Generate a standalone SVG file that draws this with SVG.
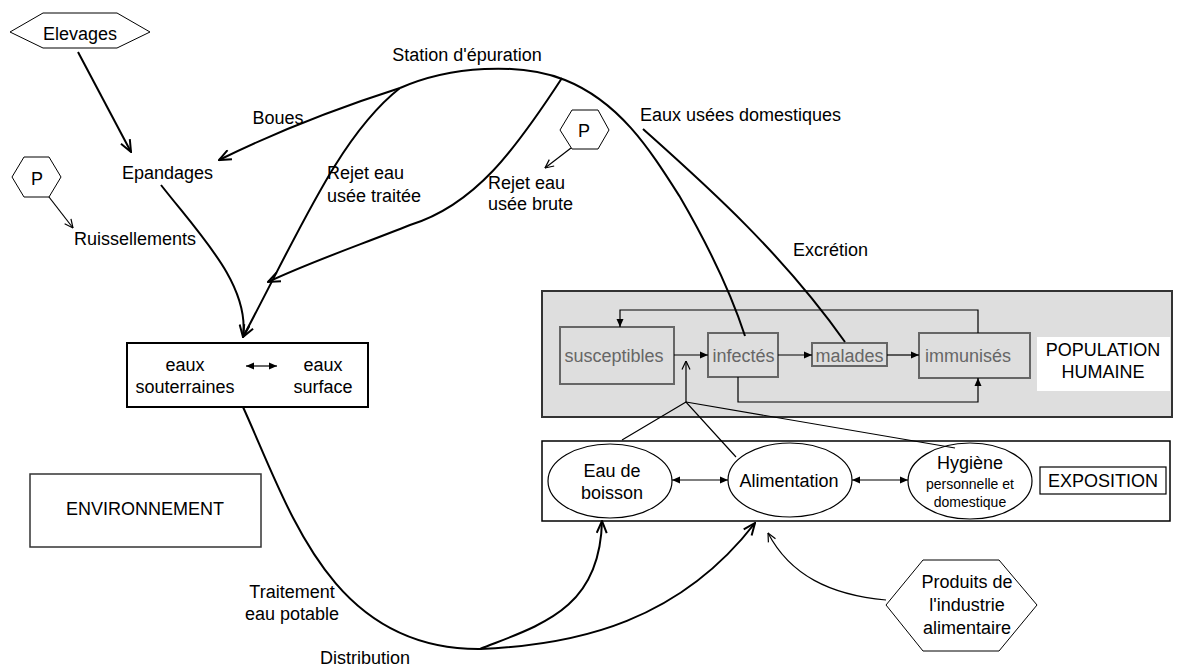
<svg xmlns="http://www.w3.org/2000/svg" width="1179" height="668" viewBox="0 0 1179 668">
<defs>
<style>
text{font-family:"Liberation Sans",Arial,sans-serif;font-size:18px;fill:#000}
.c{text-anchor:middle}
.g{fill:#666}
.thick{fill:none;stroke:#000;stroke-width:2}
.thin{fill:none;stroke:#000;stroke-width:1.2}
.hex{fill:#fff;stroke:#000;stroke-width:1}
.pbox{fill:#dedede;stroke:#666;stroke-width:2}
</style>
<marker id="vt" viewBox="0 0 14 12" refX="13" refY="6" markerWidth="14" markerHeight="12" markerUnits="userSpaceOnUse" orient="auto"><path d="M1,1 L13,6 L1,11" fill="none" stroke="#000" stroke-width="2"/></marker>
<marker id="vs" viewBox="0 0 10 10" refX="9.5" refY="5" markerWidth="10" markerHeight="10" markerUnits="userSpaceOnUse" orient="auto"><path d="M1,1 L9.5,5 L1,9" fill="none" stroke="#000" stroke-width="1.2"/></marker>
<marker id="tri" viewBox="0 0 8 8" refX="8" refY="4" markerWidth="8" markerHeight="8" markerUnits="userSpaceOnUse" orient="auto-start-reverse"><path d="M0,0.5 L8,4 L0,7.5z" fill="#000"/></marker>
</defs>
<rect width="1179" height="668" fill="#fff"/>

<g id="population">
<rect x="542" y="291" width="630" height="126" fill="#dedede" stroke="#333" stroke-width="2"/>
<rect x="1037" y="337" width="133" height="54" fill="#fff"/>
<text class="c" x="1103" y="356">POPULATION</text>
<text class="c" x="1103" y="378">HUMAINE</text>
</g>
<g id="susceptibles"><rect class="pbox" x="560" y="327" width="114" height="57"/><text class="c g" x="614" y="362">susceptibles</text></g>
<g id="infectes"><rect class="pbox" x="708" y="333" width="70" height="44"/><text class="c g" x="743.5" y="362">infectés</text></g>
<g id="malades"><rect class="pbox" x="812" y="343" width="75" height="23"/><text class="c g" x="849.5" y="362">malades</text></g>
<g id="immunises"><rect class="pbox" x="919" y="333" width="111" height="45"/><text class="c g" x="968" y="362">immunisés</text></g>

<g id="exposition">
<rect x="542" y="441" width="628" height="80" fill="#fff" stroke="#000" stroke-width="1.5"/>
<rect x="1040" y="467" width="126" height="27" fill="#fff" stroke="#000" stroke-width="1.2"/>
<text class="c" x="1103" y="487">EXPOSITION</text>
</g>
<g id="eau-boisson"><ellipse cx="610" cy="481" rx="62" ry="37" fill="#fff" stroke="#000" stroke-width="1.2"/><text class="c" x="612" y="477">Eau de</text><text class="c" x="612" y="499">boisson</text></g>
<g id="alimentation"><ellipse cx="790" cy="480" rx="62" ry="37" fill="#fff" stroke="#000" stroke-width="1.2"/><text class="c" x="789" y="487">Alimentation</text></g>
<g id="hygiene"><ellipse cx="970" cy="481" rx="62" ry="38" fill="#fff" stroke="#000" stroke-width="1.2"/><text class="c" x="970" y="469">Hygiène</text><text class="c" x="970" y="489" style="font-size:14px">personnelle et</text><text class="c" x="970" y="507" style="font-size:14px">domestique</text></g>

<g id="eaux">
<rect x="127" y="343" width="241" height="64" fill="#fff" stroke="#000" stroke-width="2"/>
<text class="c" x="185" y="371">eaux</text><text class="c" x="185" y="393">souterraines</text>
<text class="c" x="323" y="371">eaux</text><text class="c" x="323" y="393">surface</text>
</g>
<g id="environnement"><rect x="30" y="474" width="231" height="73" fill="#fff" stroke="#333" stroke-width="1.5"/><text class="c" x="145" y="515">ENVIRONNEMENT</text></g>

<g id="elevages"><polygon class="hex" points="10,32 43,13 117,13 150,32 117,48 43,48"/><text class="c" x="80" y="40">Elevages</text></g>
<g id="p1"><polygon class="hex" points="12,177 24,157 49,157 61,177 49,197 24,197"/><text class="c" x="37" y="185">P</text></g>
<g id="p2"><polygon class="hex" points="560,130 572,110 598,110 609,130 598,149 572,149"/><text class="c" x="584" y="137">P</text></g>
<g id="produits"><polygon class="hex" points="886,605 923,560 999,560 1037,605 999,651 923,651"/><text class="c" x="967" y="588">Produits de</text><text class="c" x="967" y="611">l'industrie</text><text class="c" x="967" y="634">alimentaire</text></g>

<g id="labels">
<text class="c" x="467" y="61">Station d'épuration</text>
<text class="c" x="278" y="124">Boues</text>
<text class="c" x="167.5" y="179">Epandages</text>
<text x="74" y="245">Ruissellements</text>
<text x="327" y="179">Rejet eau</text><text x="327" y="202">usée traitée</text>
<text x="488" y="189">Rejet eau</text><text x="488" y="210">usée brute</text>
<text x="640" y="121">Eaux usées domestiques</text>
<text x="793" y="256">Excrétion</text>
<text class="c" x="292" y="598">Traitement</text><text class="c" x="292" y="620">eau potable</text>
<text class="c" x="365" y="664">Distribution</text>
</g>

<g id="connectors">
<path class="thick" d="M78,52 L131,152" marker-end="url(#vt)"/>
<path class="thin" d="M49,197 L73,228" marker-end="url(#vs)"/>
<path class="thin" d="M571,148 L545,168" marker-end="url(#vs)"/>
<path class="thick" d="M400,88 Q300,120 219,160" marker-end="url(#vt)"/>
<path class="thick" d="M400,88 C340,135 300,230 243,337" marker-end="url(#vt)"/>
<path class="thick" d="M161,185 C200,235 250,285 243,337" marker-end="url(#vt)"/>
<path class="thick" d="M562,78 C515,150 475,205 410,225 C360,245 310,262 268,282" marker-end="url(#vt)"/>
<path class="thick" d="M400,88 C450,66 520,62 565,80 C620,102 650,150 680,197 C705,240 730,290 745,336"/>
<path class="thick" d="M643,129 C700,180 780,250 845,342"/>
<path class="thick" d="M243,407 C290,510 330,650 480,649"/>
<path class="thick" d="M480,649 C540,625 600,610 602,521" marker-end="url(#vt)"/>
<path class="thick" d="M480,649 C580,645 680,620 755,523" marker-end="url(#vt)"/>
<path class="thin" d="M886,600 C830,595 790,575 768,533" marker-end="url(#vs)"/>
<path class="thin" d="M246,366 L277,366" marker-start="url(#tri)" marker-end="url(#tri)"/>
<path class="thin" d="M672,480 L728,480" marker-start="url(#tri)" marker-end="url(#tri)"/>
<path class="thin" d="M852,480 L908,480" marker-start="url(#tri)" marker-end="url(#tri)"/>
<path class="thin" d="M674,355 L708,355" marker-end="url(#tri)"/>
<path class="thin" d="M778,355 L812,355" marker-end="url(#tri)"/>
<path class="thin" d="M887,355 L919,355" marker-end="url(#tri)"/>
<path class="thin" d="M978,333 L978,310 L620,310 L620,327" marker-end="url(#tri)"/>
<path class="thin" d="M738,377 L738,402 L978,402 L978,378" marker-end="url(#tri)"/>
<path class="thin" d="M686,402 L686,361" marker-end="url(#vs)"/>
<path class="thin" d="M622,440 L686,402 L736,457"/>
<path class="thin" d="M686,402 L955,448"/>
</g>
</svg>
